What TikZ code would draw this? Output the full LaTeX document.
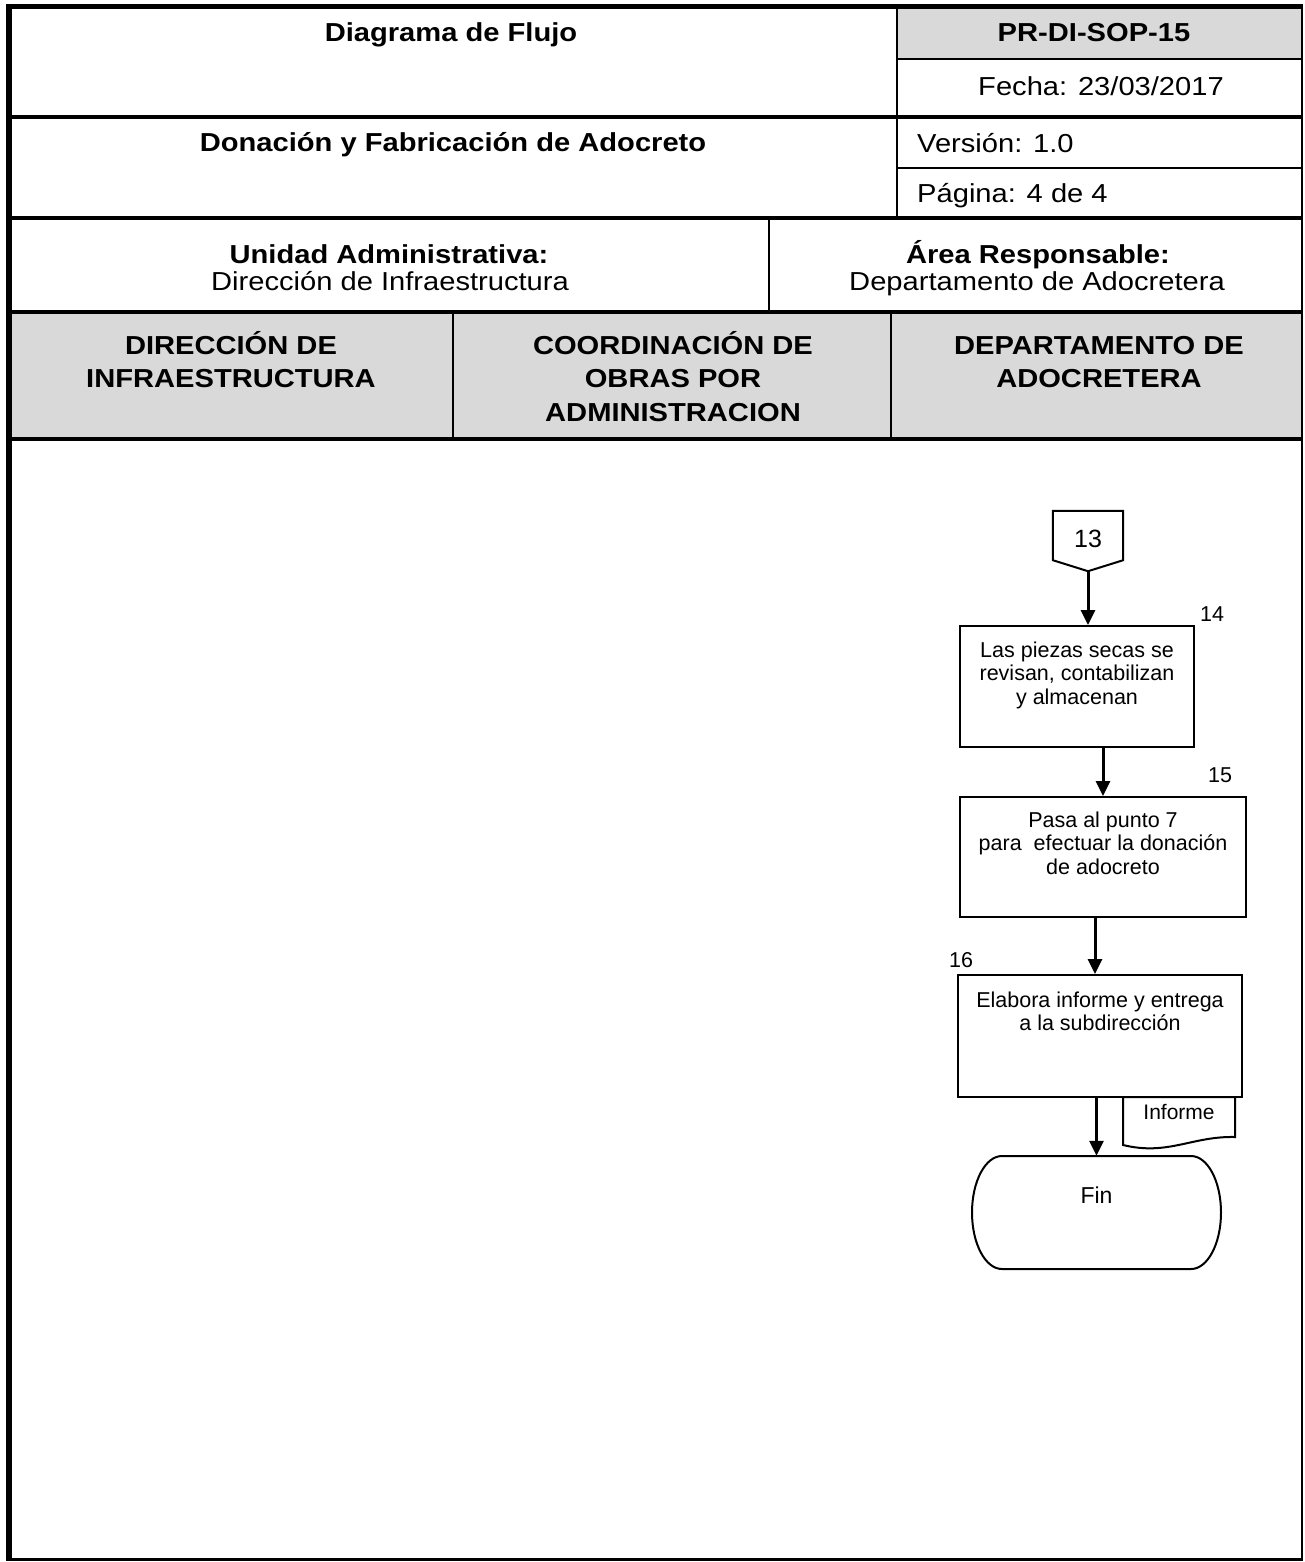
\documentclass[tikz,border=0pt]{standalone}
\usepackage{fontspec}
\setmainfont{Liberation Sans}
\newfontfamily\hfont[FakeStretch=1.12]{Liberation Sans}
\usetikzlibrary{arrows.meta}
\definecolor{hgray}{RGB}{217,217,217}
\newcommand\mlines[1]{\begin{tabular}[t]{@{}c@{}}#1\end{tabular}}
\renewcommand\arraystretch{1}
\begin{document}
\begin{tikzpicture}[x=1pt,y=-1pt,
  hdr/.style={font=\hfont\fontsize{26}{33.5}\selectfont, inner sep=0, anchor=base},
  hdrb/.style={font=\hfont\bfseries\fontsize{26}{33.5}\selectfont, inner sep=0, anchor=base},
  proc/.style={draw, line width=2pt, inner sep=0, font=\fontsize{21.5}{23.7}\selectfont, text depth=90pt},
  lbl/.style={font=\fontsize{21.5}{24}\selectfont, inner sep=0, anchor=base},
  arr/.style={line width=3pt, -{Triangle[length=15pt,width=14pt]}},
  tkl/.style={line width=4.5pt},
  thn/.style={line width=2.2pt}]
\useasboundingbox (0,0) rectangle (1304,1562);
\fill[white] (0,0) rectangle (1304,1562);
% gray fills
\fill[hgray] (897,6.5) rectangle (1302,59);
\fill[hgray] (9,312) rectangle (1302,439);
% thin header lines
\draw[thn] (897,59) -- (1302,59);
\draw[thn] (897,6.5) -- (897,218);
\draw[thn] (897,168) -- (1302,168);
\draw[thn] (769,218) -- (769,312);
\draw[thn] (453,312) -- (453,439);
\draw[thn] (891,312) -- (891,439);
% thick header lines
\draw[tkl] (9,117) -- (1302,117);
\draw[tkl] (9,218) -- (1302,218);
\draw[tkl] (9,312) -- (1302,312);
\draw[tkl] (9,439) -- (1302,439);
% outer frame
\draw[line width=5pt] (6,6.5) -- (1303,6.5);
\draw[line width=2pt] (1302,4) -- (1302,1561);
\draw[line width=3pt] (6,1559.5) -- (1303,1559.5);
\draw[line width=6pt] (9,4) -- (9,1561);
% header texts
\node[hdrb] (title) at (451,42) {Diagrama de Flujo};
\node[hdrb] (code) at (1094,42) {PR-DI-SOP-15};
\node[hdr] (fecha) at (1101,96) {Fecha: 23/03/2017};
\node[hdrb] (proc) at (453,152) {Donación y Fabricación de Adocreto};
\node[hdr, anchor=base west] (version) at (917,153) {Versión: 1.0};
\node[hdr, anchor=base west] (pagina) at (917,203) {Página: 4 de 4};
\node[hdrb] (unidad) at (389,263) {Unidad Administrativa:};
\node[hdr] (unidadv) at (390,290) {Dirección de Infraestructura};
\node[hdrb] (area) at (1038,263) {Área Responsable:};
\node[hdr] (areav) at (1037,290) {Departamento de Adocretera};
\node[hdrb] (lane1) at (231,354) {\mlines{DIRECCIÓN DE\\INFRAESTRUCTURA}};
\node[hdrb] (lane2) at (673,354) {\mlines{COORDINACIÓN DE\\OBRAS POR\\ADMINISTRACION}};
\node[hdrb] (lane3) at (1099,354) {\mlines{DEPARTAMENTO DE\\ADOCRETERA}};
% off-page connector 13
\node[inner sep=6pt, minimum width=70pt, text height=30pt, text depth=18pt,
      font=\fontsize{25}{28}\selectfont] (c13) at (1088,541) {13};
\draw[line width=2pt, line join=miter] (c13.north west) -- (c13.north east)
  -- ([yshift=11pt]c13.south east) -- (c13.south) -- ([yshift=11pt]c13.south west) -- cycle;
% process boxes
\node[proc, minimum width=234pt, text height=31pt] (box14) at (1077,686.5)
  {\mlines{Las piezas secas se\\revisan, contabilizan\\y almacenan}};
\node[proc, minimum width=286pt, text height=30pt] (box15) at (1103,857)
  {\mlines{Pasa al punto 7\\para~ efectuar la donación\\de adocreto}};
\node[proc, minimum width=284pt, text height=32pt] (box16) at (1100,1036)
  {\mlines{Elabora informe y entrega\\a la subdirección}};
% step numbers
\node[lbl] (n14) at (1212,621) {14};
\node[lbl] (n15) at (1220,782) {15};
\node[lbl] (n16) at (961,967) {16};
% document
\draw[line width=2pt] (1123,1097) -- (1235,1097) -- (1235,1137)
  .. controls (1192,1136) and (1168,1156) .. (1123,1145) -- cycle;
\node[lbl, font=\fontsize{21}{24}\selectfont] (doc) at (1179,1119) {Informe};
% terminator
\node[inner sep=0, minimum width=249pt, text height=47pt, text depth=66pt,
      font=\fontsize{23}{26}\selectfont] (fin) at (1096.5,1212.5) {Fin};
\draw[line width=2pt] (1002,1156) -- (1191,1156)
  .. controls (1207.6,1156) and (1221,1181.3) .. (1221,1212.5)
  .. controls (1221,1243.7) and (1207.6,1269) .. (1191,1269)
  -- (1002,1269)
  .. controls (985.4,1269) and (972,1243.7) .. (972,1212.5)
  .. controls (972,1181.3) and (985.4,1156) .. (1002,1156) -- cycle;
% connectors
\draw[arr] (c13.south) -- (c13.south |- box14.north);
\draw[arr] (box15.north |- box14.south) -- (box15.north);
\draw[arr] ([xshift=-5pt]box16.north |- box15.south) -- ([xshift=-5pt]box16.north);
\draw[arr] (fin.north |- box16.south) -- (fin.north);
\end{tikzpicture}
\end{document}
